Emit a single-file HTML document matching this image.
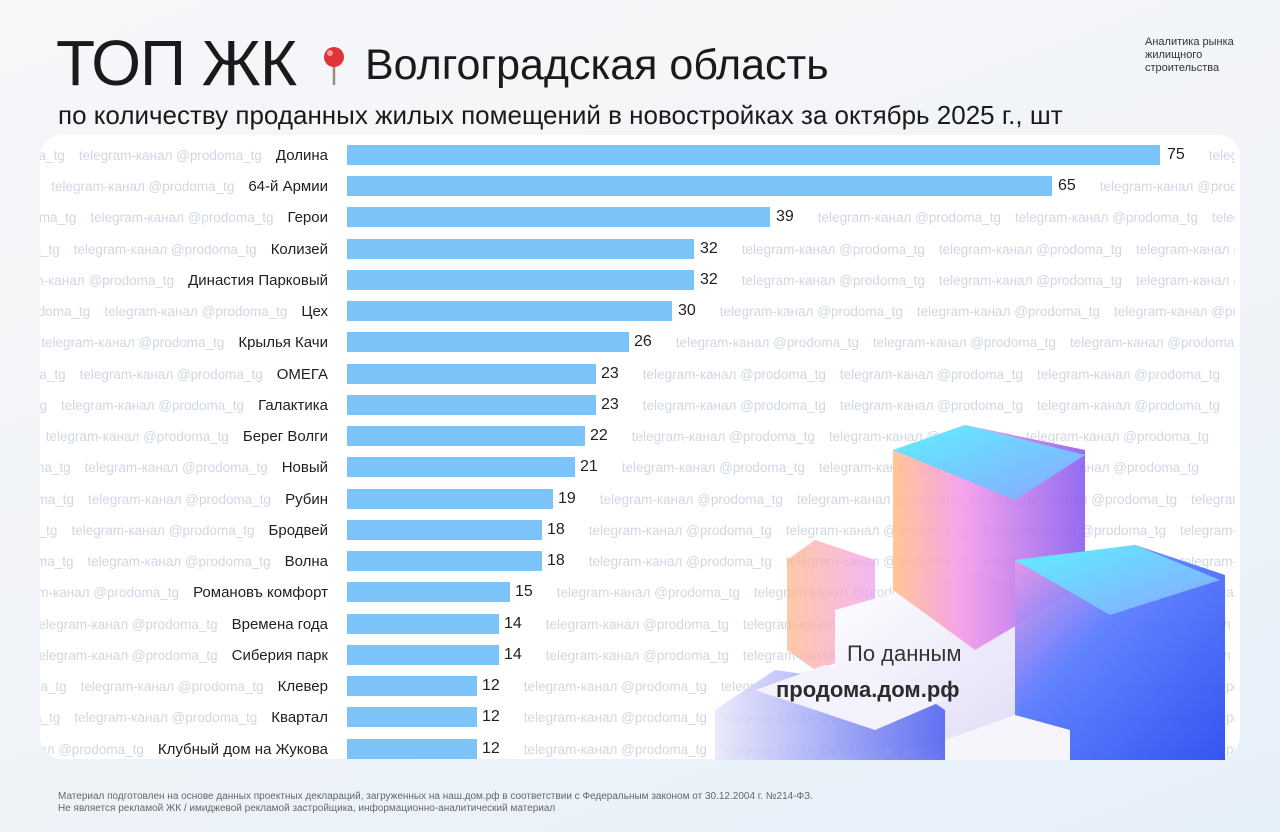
<!DOCTYPE html>
<html><head><meta charset="utf-8">
<style>
*{margin:0;padding:0;box-sizing:border-box}
body{width:1280px;height:832px;overflow:hidden;font-family:"Liberation Sans","DejaVu Sans",sans-serif;background:linear-gradient(160deg,#f6f7f9 0%,#f1f4f8 50%,#e6f0fa 100%);position:relative;color:#1d1d1f}
.t1{position:absolute;left:56px;top:26px;font-size:64px;letter-spacing:-1px;color:#1a1a1a}
.t2{position:absolute;left:365px;top:41px;font-size:43px;color:#1a1a1a}
.pin{position:absolute;left:322px;top:45px}
.sub{position:absolute;left:58px;top:100px;font-size:26px;color:#1a1a1a}
.brand{position:absolute;left:1145px;top:36px;font-size:11px;line-height:13px;color:#333}
.card{position:absolute;left:40px;top:135px;width:1200px;height:624px;background:#fff;border-radius:22px;overflow:hidden}
.row{position:absolute;left:0;width:1200px;height:22px}
.lw{position:absolute;left:0;width:288px;height:22px;display:flex;justify-content:flex-end;align-items:center;overflow:hidden;white-space:nowrap}
.wm{color:#d0d7e2;font-size:13.5px;margin-right:14px;flex:none}
.lab{font-size:15px;color:#1f1f1f;flex:none}
.bar{position:absolute;left:307px;top:1px;height:20px;background:#7cc3fa}
.rw{position:absolute;top:0;height:22px;right:0;display:flex;align-items:center;overflow:hidden;white-space:nowrap;transform:translateX(-5px)}
.val{font-size:16px;color:#1f1f1f;margin-right:24px;flex:none}
.rw .wm{margin-right:14px}
.illu{position:absolute;left:715px;top:410px}
.src1{position:absolute;left:847px;top:641px;font-size:22px;color:#333}
.src2{position:absolute;left:776px;top:677px;font-size:22px;font-weight:bold;color:#2b2b2b}
.foot{position:absolute;left:58px;top:791px;font-size:10px;line-height:12px;color:#666}
</style></head><body>
<div class="t1">ТОП ЖК</div>
<svg class="pin" width="24" height="42" viewBox="0 0 24 42"><line x1="12" y1="18" x2="12" y2="40" stroke="#a08a70" stroke-width="2.5"/><circle cx="12" cy="12" r="10" fill="#e0333a"/><circle cx="8" cy="8" r="3" fill="#f59a9a"/></svg>
<div class="t2">Волгоградская область</div>
<div class="sub">по количеству проданных жилых помещений в новостройках за октябрь 2025 г., шт</div>
<div class="brand">Аналитика рынка<br>жилищного<br>строительства</div>
<div class="card">
<div class="row" style="top:9px"><div class="lw"><span class="wm">telegram-канал @prodoma_tg</span><span class="wm">telegram-канал @prodoma_tg</span><span class="lab">Долина</span></div><div class="bar" style="width:813px"></div><div class="rw" style="left:1132px"><span class="val">75</span><span class="wm">telegram-канал @prodoma_tg</span></div></div>
<div class="row" style="top:40px"><div class="lw"><span class="wm">telegram-канал @prodoma_tg</span><span class="wm">telegram-канал @prodoma_tg</span><span class="lab">64-й Армии</span></div><div class="bar" style="width:705px"></div><div class="rw" style="left:1023px"><span class="val">65</span><span class="wm">telegram-канал @prodoma_tg</span></div></div>
<div class="row" style="top:71px"><div class="lw"><span class="wm">telegram-канал @prodoma_tg</span><span class="wm">telegram-канал @prodoma_tg</span><span class="lab">Герои</span></div><div class="bar" style="width:423px"></div><div class="rw" style="left:741px"><span class="val">39</span><span class="wm">telegram-канал @prodoma_tg</span><span class="wm">telegram-канал @prodoma_tg</span><span class="wm">telegram-канал @prodoma_tg</span></div></div>
<div class="row" style="top:103px"><div class="lw"><span class="wm">telegram-канал @prodoma_tg</span><span class="wm">telegram-канал @prodoma_tg</span><span class="lab">Колизей</span></div><div class="bar" style="width:347px"></div><div class="rw" style="left:665px"><span class="val">32</span><span class="wm">telegram-канал @prodoma_tg</span><span class="wm">telegram-канал @prodoma_tg</span><span class="wm">telegram-канал @prodoma_tg</span></div></div>
<div class="row" style="top:134px"><div class="lw"><span class="wm">telegram-канал @prodoma_tg</span><span class="wm">telegram-канал @prodoma_tg</span><span class="lab">Династия Парковый</span></div><div class="bar" style="width:347px"></div><div class="rw" style="left:665px"><span class="val">32</span><span class="wm">telegram-канал @prodoma_tg</span><span class="wm">telegram-канал @prodoma_tg</span><span class="wm">telegram-канал @prodoma_tg</span></div></div>
<div class="row" style="top:165px"><div class="lw"><span class="wm">telegram-канал @prodoma_tg</span><span class="wm">telegram-канал @prodoma_tg</span><span class="lab">Цех</span></div><div class="bar" style="width:325px"></div><div class="rw" style="left:643px"><span class="val">30</span><span class="wm">telegram-канал @prodoma_tg</span><span class="wm">telegram-канал @prodoma_tg</span><span class="wm">telegram-канал @prodoma_tg</span></div></div>
<div class="row" style="top:196px"><div class="lw"><span class="wm">telegram-канал @prodoma_tg</span><span class="wm">telegram-канал @prodoma_tg</span><span class="lab">Крылья Качи</span></div><div class="bar" style="width:282px"></div><div class="rw" style="left:599px"><span class="val">26</span><span class="wm">telegram-канал @prodoma_tg</span><span class="wm">telegram-канал @prodoma_tg</span><span class="wm">telegram-канал @prodoma_tg</span></div></div>
<div class="row" style="top:228px"><div class="lw"><span class="wm">telegram-канал @prodoma_tg</span><span class="wm">telegram-канал @prodoma_tg</span><span class="lab">ОМЕГА</span></div><div class="bar" style="width:249px"></div><div class="rw" style="left:566px"><span class="val">23</span><span class="wm">telegram-канал @prodoma_tg</span><span class="wm">telegram-канал @prodoma_tg</span><span class="wm">telegram-канал @prodoma_tg</span></div></div>
<div class="row" style="top:259px"><div class="lw"><span class="wm">telegram-канал @prodoma_tg</span><span class="wm">telegram-канал @prodoma_tg</span><span class="lab">Галактика</span></div><div class="bar" style="width:249px"></div><div class="rw" style="left:566px"><span class="val">23</span><span class="wm">telegram-канал @prodoma_tg</span><span class="wm">telegram-канал @prodoma_tg</span><span class="wm">telegram-канал @prodoma_tg</span></div></div>
<div class="row" style="top:290px"><div class="lw"><span class="wm">telegram-канал @prodoma_tg</span><span class="wm">telegram-канал @prodoma_tg</span><span class="lab">Берег Волги</span></div><div class="bar" style="width:238px"></div><div class="rw" style="left:555px"><span class="val">22</span><span class="wm">telegram-канал @prodoma_tg</span><span class="wm">telegram-канал @prodoma_tg</span><span class="wm">telegram-канал @prodoma_tg</span></div></div>
<div class="row" style="top:321px"><div class="lw"><span class="wm">telegram-канал @prodoma_tg</span><span class="wm">telegram-канал @prodoma_tg</span><span class="lab">Новый</span></div><div class="bar" style="width:228px"></div><div class="rw" style="left:545px"><span class="val">21</span><span class="wm">telegram-канал @prodoma_tg</span><span class="wm">telegram-канал @prodoma_tg</span><span class="wm">telegram-канал @prodoma_tg</span></div></div>
<div class="row" style="top:353px"><div class="lw"><span class="wm">telegram-канал @prodoma_tg</span><span class="wm">telegram-канал @prodoma_tg</span><span class="lab">Рубин</span></div><div class="bar" style="width:206px"></div><div class="rw" style="left:523px"><span class="val">19</span><span class="wm">telegram-канал @prodoma_tg</span><span class="wm">telegram-канал @prodoma_tg</span><span class="wm">telegram-канал @prodoma_tg</span><span class="wm">telegram-канал @prodoma_tg</span></div></div>
<div class="row" style="top:384px"><div class="lw"><span class="wm">telegram-канал @prodoma_tg</span><span class="wm">telegram-канал @prodoma_tg</span><span class="lab">Бродвей</span></div><div class="bar" style="width:195px"></div><div class="rw" style="left:512px"><span class="val">18</span><span class="wm">telegram-канал @prodoma_tg</span><span class="wm">telegram-канал @prodoma_tg</span><span class="wm">telegram-канал @prodoma_tg</span><span class="wm">telegram-канал @prodoma_tg</span></div></div>
<div class="row" style="top:415px"><div class="lw"><span class="wm">telegram-канал @prodoma_tg</span><span class="wm">telegram-канал @prodoma_tg</span><span class="lab">Волна</span></div><div class="bar" style="width:195px"></div><div class="rw" style="left:512px"><span class="val">18</span><span class="wm">telegram-канал @prodoma_tg</span><span class="wm">telegram-канал @prodoma_tg</span><span class="wm">telegram-канал @prodoma_tg</span><span class="wm">telegram-канал @prodoma_tg</span></div></div>
<div class="row" style="top:446px"><div class="lw"><span class="wm">telegram-канал @prodoma_tg</span><span class="wm">telegram-канал @prodoma_tg</span><span class="lab">Романовъ комфорт</span></div><div class="bar" style="width:163px"></div><div class="rw" style="left:480px"><span class="val">15</span><span class="wm">telegram-канал @prodoma_tg</span><span class="wm">telegram-канал @prodoma_tg</span><span class="wm">telegram-канал @prodoma_tg</span><span class="wm">telegram-канал @prodoma_tg</span></div></div>
<div class="row" style="top:478px"><div class="lw"><span class="wm">telegram-канал @prodoma_tg</span><span class="wm">telegram-канал @prodoma_tg</span><span class="lab">Времена года</span></div><div class="bar" style="width:152px"></div><div class="rw" style="left:469px"><span class="val">14</span><span class="wm">telegram-канал @prodoma_tg</span><span class="wm">telegram-канал @prodoma_tg</span><span class="wm">telegram-канал @prodoma_tg</span><span class="wm">telegram-канал @prodoma_tg</span></div></div>
<div class="row" style="top:509px"><div class="lw"><span class="wm">telegram-канал @prodoma_tg</span><span class="wm">telegram-канал @prodoma_tg</span><span class="lab">Сиберия парк</span></div><div class="bar" style="width:152px"></div><div class="rw" style="left:469px"><span class="val">14</span><span class="wm">telegram-канал @prodoma_tg</span><span class="wm">telegram-канал @prodoma_tg</span><span class="wm">telegram-канал @prodoma_tg</span><span class="wm">telegram-канал @prodoma_tg</span></div></div>
<div class="row" style="top:540px"><div class="lw"><span class="wm">telegram-канал @prodoma_tg</span><span class="wm">telegram-канал @prodoma_tg</span><span class="lab">Клевер</span></div><div class="bar" style="width:130px"></div><div class="rw" style="left:447px"><span class="val">12</span><span class="wm">telegram-канал @prodoma_tg</span><span class="wm">telegram-канал @prodoma_tg</span><span class="wm">telegram-канал @prodoma_tg</span><span class="wm">telegram-канал @prodoma_tg</span></div></div>
<div class="row" style="top:571px"><div class="lw"><span class="wm">telegram-канал @prodoma_tg</span><span class="wm">telegram-канал @prodoma_tg</span><span class="lab">Квартал</span></div><div class="bar" style="width:130px"></div><div class="rw" style="left:447px"><span class="val">12</span><span class="wm">telegram-канал @prodoma_tg</span><span class="wm">telegram-канал @prodoma_tg</span><span class="wm">telegram-канал @prodoma_tg</span><span class="wm">telegram-канал @prodoma_tg</span></div></div>
<div class="row" style="top:603px"><div class="lw"><span class="wm">telegram-канал @prodoma_tg</span><span class="wm">telegram-канал @prodoma_tg</span><span class="lab">Клубный дом на Жукова</span></div><div class="bar" style="width:130px"></div><div class="rw" style="left:447px"><span class="val">12</span><span class="wm">telegram-канал @prodoma_tg</span><span class="wm">telegram-канал @prodoma_tg</span><span class="wm">telegram-канал @prodoma_tg</span><span class="wm">telegram-канал @prodoma_tg</span></div></div>
</div>
<svg class="illu" width="525" height="350" viewBox="0 0 525 350">
<defs>
<linearGradient id="g1" x1="0" y1="0" x2="1" y2="0"><stop offset="0" stop-color="#ffc08a"/><stop offset=".35" stop-color="#f59be8"/><stop offset="1" stop-color="#8a5cf0"/></linearGradient>
<linearGradient id="g2" x1="0" y1="0" x2="1" y2="1"><stop offset="0" stop-color="#5ff0ff"/><stop offset="1" stop-color="#8aa5ff"/></linearGradient>
<linearGradient id="g3" x1="0" y1="0" x2="1" y2="1"><stop offset="0" stop-color="#f59be8"/><stop offset=".4" stop-color="#5a7cff"/><stop offset="1" stop-color="#2a4cf0"/></linearGradient>
<linearGradient id="g4" x1="0" y1="0" x2="1" y2="0"><stop offset="0" stop-color="#ffb58a"/><stop offset="1" stop-color="#f0a0f0"/></linearGradient>
<linearGradient id="g5" x1="0" y1="0" x2="1" y2="1"><stop offset="0" stop-color="#ffffff"/><stop offset="1" stop-color="#dcd8f5"/></linearGradient>
<linearGradient id="g6" x1="0" y1="0" x2="1" y2="0"><stop offset="0" stop-color="#e8e6fa"/><stop offset="1" stop-color="#4a5cf0"/></linearGradient>
</defs>
<path d="M72 150 L100 130 L160 150 L160 240 L100 260 L72 240Z" fill="url(#g4)" opacity=".75"/>
<path d="M120 200 L260 160 L360 200 L360 330 L120 340Z" fill="url(#g5)"/>
<path d="M178 40 L250 15 L370 40 L370 175 L260 240 L178 180Z" fill="url(#g1)" opacity=".9"/>
<path d="M178 40 L250 15 L370 45 L300 90Z" fill="url(#g2)"/>
<path d="M0 300 L60 260 L200 280 L230 300 L230 350 L0 350Z" fill="url(#g6)" opacity=".85"/>
<path d="M40 280 L110 255 L230 290 L160 320Z" fill="#f4f2fc"/>
<path d="M300 150 L420 135 L510 165 L510 350 L300 350Z" fill="url(#g3)" opacity=".95"/>
<path d="M300 150 L420 135 L505 170 L395 205Z" fill="url(#g2)"/>
<path d="M230 330 L300 305 L355 320 L355 350 L230 350Z" fill="#f6f5fc"/>
</svg>
<div class="src1">По данным</div>
<div class="src2">продома.дом.рф</div>
<div class="foot">Материал подготовлен на основе данных проектных деклараций, загруженных на наш.дом.рф в соответствии с Федеральным законом от 30.12.2004 г. №214-ФЗ.<br>Не является рекламой ЖК / имиджевой рекламой застройщика, информационно-аналитический материал</div>
</body></html>
